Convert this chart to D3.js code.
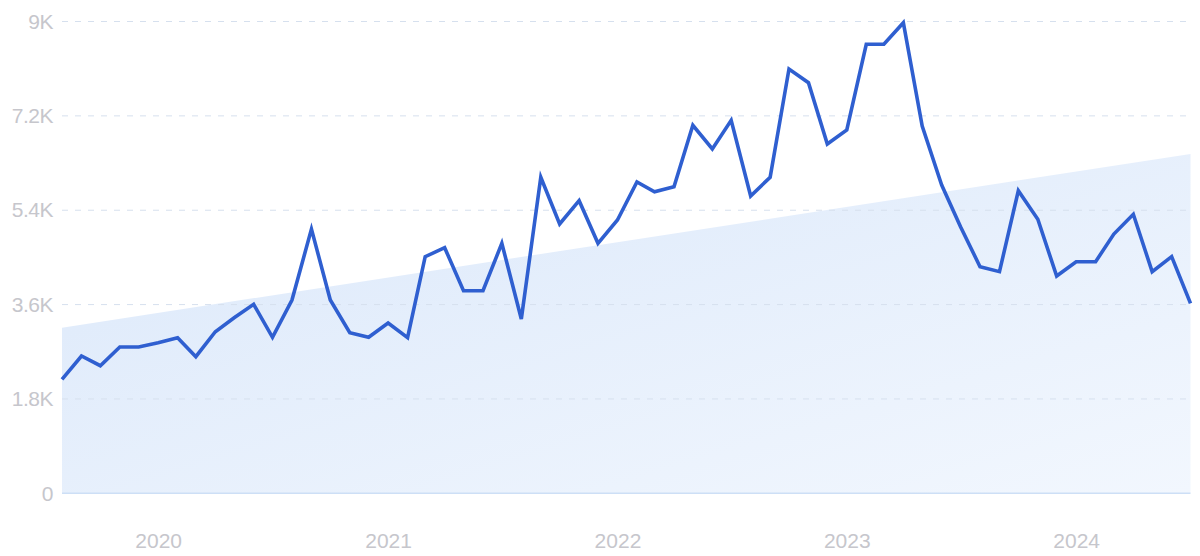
<!DOCTYPE html>
<html>
<head>
<meta charset="utf-8">
<script src="https://cdn.jsdelivr.net/npm/d3@7"></script>
<style>
  html, body { margin: 0; padding: 0; background: #ffffff; }
  svg { display: block; font-family: Inter, "Open Sans", sans-serif; }
</style>
</head>
<body>
<svg id="chart" width="1200" height="556"></svg>
<script>
// Monthly values, Aug 2019 – Jul 2024
const startMonth = "2019-08";
const values = [
  2175, 2619, 2434, 2791, 2791, 2870, 2968, 2606, 3083, 3350, 3605, 2976,
  3687, 5040, 3687, 3064, 2976, 3249, 2968, 4514, 4685, 3865, 3865, 4769,
  3325, 6028, 5137, 5582, 4769, 5213, 5938, 5753, 5849, 7020, 6568, 7115,
  5671, 6028, 8094, 7833, 6663, 6930, 8565, 8565, 8977, 7007, 5881, 5086,
  4323, 4228, 5772, 5227, 4145, 4418, 4418, 4946, 5322, 4228, 4514, 3624
];
const trendStart = 3159;
const trendEnd = 6473;
const yTicks = [0, 1800, 3600, 5400, 7200, 9000];
const yTickLabels = ["0", "1.8K", "3.6K", "5.4K", "7.2K", "9K"];
const xTickYears = ["2020", "2021", "2022", "2023", "2024"];

(function () {
const parse = d3.timeParse("%Y-%m");
const t0 = parse(startMonth);
const dates = values.map((v, i) => d3.timeMonth.offset(t0, i));
const data = values.map((v, i) => ({ date: dates[i], value: v }));

const svg = d3.select("#chart");
const mLeft = 62, mRight = 1190.5, mTop = 21.5, mBottom = 493.3;

const x = d3.scaleTime().domain([dates[0], dates[dates.length - 1]]).range([mLeft, mRight]);
const y = d3.scaleLinear().domain([0, 9000]).range([mBottom, mTop]);

// gradient for trend area
const defs = svg.append("defs");
const grad = defs.append("linearGradient").attr("id", "trendGrad")
  .attr("x1", "0%").attr("y1", "0%").attr("x2", "100%").attr("y2", "100%");
grad.append("stop").attr("offset", "0%").attr("stop-color", "#dbe8fa");
grad.append("stop").attr("offset", "100%").attr("stop-color", "#f2f7fe");

// trend area
const trendData = [
  { date: dates[0], value: trendStart },
  { date: dates[dates.length - 1], value: trendEnd }
];
svg.append("path")
  .datum(trendData)
  .attr("fill", "url(#trendGrad)")
  .attr("d", d3.area().x(d => x(d.date)).y0(y(0)).y1(d => y(d.value)));

// y axis labels
const yAxis = d3.axisLeft(y).tickValues(yTicks).tickFormat((d, i) => yTickLabels[i]).tickSize(0).tickPadding(10);
const gy = svg.append("g").attr("transform", `translate(${mLeft},0)`).call(yAxis);
gy.select(".domain").remove();
gy.selectAll("text")
  .attr("fill", "#c6c6cc")
  .style("font-size", "21px")
  .style("letter-spacing", "-0.5px")
  .attr("x", -9);

// gridlines
svg.append("g").selectAll("line")
  .data(yTicks.filter(d => d > 0))
  .join("line")
  .attr("x1", mLeft).attr("x2", mRight)
  .attr("y1", d => y(d)).attr("y2", d => y(d))
  .attr("stroke", "#d6e0ee")
  .attr("stroke-width", 1)
  .attr("stroke-dasharray", "6,7");

// baseline
svg.append("line")
  .attr("x1", mLeft).attr("x2", mRight)
  .attr("y1", y(0)).attr("y2", y(0))
  .attr("stroke", "#cddff6").attr("stroke-width", 1.5);

// x axis
const xTicks = xTickYears.map(s => d3.timeParse("%Y")(s));
const xAxis = d3.axisBottom(x).tickValues(xTicks).tickFormat(d3.timeFormat("%Y")).tickSize(0).tickPadding(0);
const gx = svg.append("g").attr("transform", `translate(0,${mBottom})`).call(xAxis);
gx.select(".domain").remove();
gx.selectAll("text")
  .attr("fill", "#c6c6cc")
  .style("font-size", "21px")
  .attr("dy", "0")
  .attr("y", 55);

// line
svg.append("path")
  .datum(data)
  .attr("fill", "none")
  .attr("stroke", "#2f5fd0")
  .attr("stroke-width", 3.6)
  .attr("stroke-linejoin", "miter")
  .attr("d", d3.line().x(d => x(d.date)).y(d => y(d.value)));
})();
</script>
</body>
</html>
